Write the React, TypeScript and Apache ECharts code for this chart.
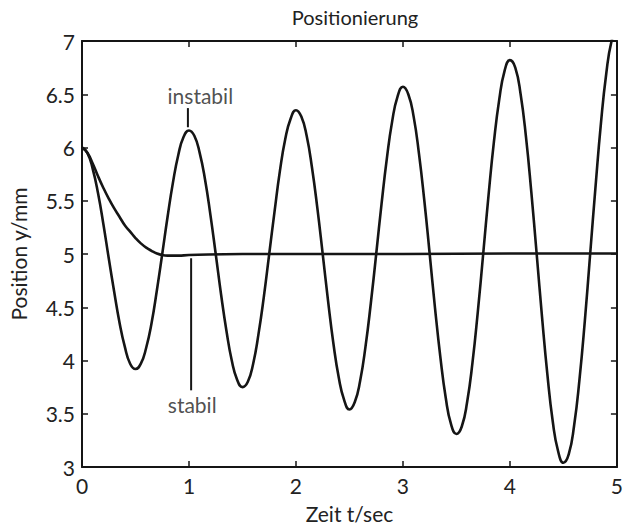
import React, { useEffect, useRef } from "react";
import * as echarts from "echarts";

const timeSteps: number[] = [
  0, 0.05, 0.1, 0.15, 0.2, 0.25, 0.3, 0.35, 0.4, 0.45, 0.5, 0.55, 0.6, 0.65, 0.7, 0.75, 0.8, 0.85, 0.9, 0.95,
  1, 1.05, 1.1, 1.15, 1.2, 1.25, 1.3, 1.35, 1.4, 1.45, 1.5, 1.55, 1.6, 1.65, 1.7, 1.75, 1.8, 1.85, 1.9, 1.95,
  2, 2.05, 2.1, 2.15, 2.2, 2.25, 2.3, 2.35, 2.4, 2.45, 2.5, 2.55, 2.6, 2.65, 2.7, 2.75, 2.8, 2.85, 2.9, 2.95,
  3, 3.05, 3.1, 3.15, 3.2, 3.25, 3.3, 3.35, 3.4, 3.45, 3.5, 3.55, 3.6, 3.65, 3.7, 3.75, 3.8, 3.85, 3.9, 3.95,
  4, 4.05, 4.1, 4.15, 4.2, 4.25, 4.3, 4.35, 4.4, 4.45, 4.5, 4.55, 4.6, 4.65, 4.7, 4.75, 4.8, 4.85, 4.9, 4.95,
  5,
];

const instabilValues: number[] = [
  6.0, 5.95, 5.8, 5.57, 5.28, 4.96, 4.65, 4.36, 4.13, 3.97, 3.92, 3.97, 4.12, 4.35, 4.66, 5.0, 5.35, 5.67, 5.93, 6.1,
  6.16, 6.11, 5.95, 5.7, 5.37, 5.0, 4.62, 4.28, 4.0, 3.82, 3.75, 3.8, 3.97, 4.25, 4.6, 5.0, 5.4, 5.78, 6.08, 6.27,
  6.35, 6.29, 6.11, 5.81, 5.43, 5.0, 4.56, 4.16, 3.84, 3.63, 3.54, 3.61, 3.81, 4.13, 4.54, 5.0, 5.47, 5.9, 6.25, 6.48,
  6.57, 6.5, 6.29, 5.94, 5.5, 5.0, 4.49, 4.03, 3.65, 3.4, 3.31, 3.38, 3.61, 3.98, 4.46, 5.0, 5.55, 6.05, 6.45, 6.72,
  6.82, 6.75, 6.5, 6.1, 5.58, 5.0, 4.41, 3.87, 3.43, 3.15, 3.04, 3.12, 3.39, 3.82, 4.37, 5.0, 5.63, 6.22, 6.69, 7.0,
  7.12,
];

const stabilTimes: number[] = [0, 0.05, 0.1, 0.15, 0.2, 0.25, 0.3, 0.35, 0.4, 0.45, 0.5, 0.55, 0.6, 0.65, 0.7, 0.75, 0.8, 0.9, 1.0, 1.5, 2, 3, 4, 5];
const stabilValues: number[] = [6.0, 5.95, 5.85, 5.73, 5.62, 5.52, 5.43, 5.35, 5.27, 5.21, 5.15, 5.1, 5.06, 5.03, 5.005, 4.99, 4.985, 4.985, 4.99, 5.0, 5.0, 5.0, 5.005, 5.005];

const xTicks = { min: 0, max: 5, interval: 1 };
const yTicks = { min: 3, max: 7, interval: 0.5 };

const annotationLabels: string[] = ["instabil", "stabil"];
const annotationLineX: number[] = [0.99, 1.02];
const annotationLineY0: number[] = [6.37, 4.96];
const annotationLineY1: number[] = [6.19, 3.72];
const annotationTextX: number[] = [1.106, 1.03];
const annotationTextY: number[] = [6.49, 3.59];

const FONT = "Lato, 'Open Sans', sans-serif";
const INK = "#151515";
const TEXT = "#222";

export default function App() {
  const ref = useRef<HTMLDivElement>(null);

  useEffect(() => {
    if (!ref.current) return;
    const chart = echarts.init(ref.current, null, { renderer: "svg" });

    const instabil = timeSteps.map((t, i) => [t, instabilValues[i]]);
    const stabil = stabilTimes.map((t, i) => [t, stabilValues[i]]);

    const axisLine = { show: true, onZero: false, lineStyle: { color: INK, width: 2 } };
    const axisTick = { show: true, inside: true, length: 6, lineStyle: { color: INK, width: 1.5 } };

    const pointerSeries = annotationLabels.map((name, i) => ({
      type: "line",
      name: name + "-pointer",
      data: [
        [annotationLineX[i], annotationLineY0[i]],
        [annotationLineX[i], annotationLineY1[i]],
      ],
      showSymbol: false,
      symbol: "none",
      lineStyle: { color: INK, width: 2 },
      silent: true,
    }));

    chart.setOption({
      animation: false,
      title: {
        text: "Positionierung",
        left: 350,
        textAlign: "center",
        top: 2,
        textStyle: { fontFamily: FONT, fontSize: 20, fontWeight: "normal", color: TEXT },
      },
      grid: { left: 80, right: 3, top: 41, bottom: 61, containLabel: false },
      xAxis: [
        {
          type: "value",
          ...xTicks,
          position: "bottom",
          axisLine,
          axisTick,
          splitLine: { show: false },
          axisLabel: { fontFamily: FONT, fontSize: 21, color: TEXT, margin: 8 },
          name: "Zeit t/sec",
          nameLocation: "middle",
          nameGap: 36,
          nameTextStyle: { fontFamily: FONT, fontSize: 21, color: TEXT },
        },
        {
          type: "value",
          ...xTicks,
          position: "top",
          axisLine,
          axisTick,
          splitLine: { show: false },
          axisLabel: { show: false },
        },
      ],
      yAxis: [
        {
          type: "value",
          ...yTicks,
          position: "left",
          axisLine,
          axisTick,
          splitLine: { show: false },
          axisLabel: { fontFamily: FONT, fontSize: 21, color: TEXT, margin: 7 },
          name: "Position y/mm",
          nameLocation: "middle",
          nameGap: 53,
          nameTextStyle: { fontFamily: FONT, fontSize: 21, color: TEXT },
        },
        {
          type: "value",
          ...yTicks,
          position: "right",
          axisLine,
          axisTick,
          splitLine: { show: false },
          axisLabel: { show: false },
        },
      ],
      series: [
        {
          type: "line",
          name: "instabil",
          data: instabil,
          showSymbol: false,
          symbol: "none",
          smooth: true,
          clip: true,
          lineStyle: { color: INK, width: 2.6 },
        },
        {
          type: "line",
          name: "stabil",
          data: stabil,
          showSymbol: false,
          symbol: "none",
          smooth: true,
          clip: true,
          lineStyle: { color: INK, width: 2.6 },
        },
        ...pointerSeries,
        {
          type: "scatter",
          name: "labels",
          data: annotationLabels.map((name, i) => ({
            value: [annotationTextX[i], annotationTextY[i]],
            label: { show: true, formatter: name },
          })),
          symbolSize: 0,
          silent: true,
          label: {
            show: true,
            position: "inside",
            fontFamily: FONT,
            fontSize: 21,
            color: TEXT,
          },
        },
      ],
    });

    return () => chart.dispose();
  }, []);

  return (
    <div
      ref={ref}
      style={{ position: "absolute", left: 0, top: 0, width: 626, height: 529, background: "#fff" }}
    />
  );
}
